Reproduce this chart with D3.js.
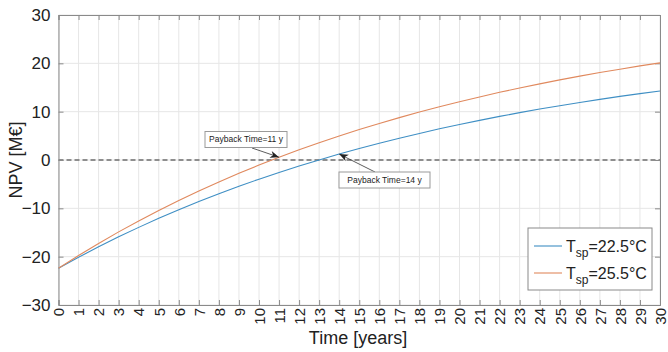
<!DOCTYPE html>
<html><head><meta charset="utf-8">
<script src="https://cdn.jsdelivr.net/npm/d3@7"></script>
<style>body{margin:0;background:#fff}svg{display:block;font-family:"Liberation Sans",Arial,sans-serif}</style>
</head><body><svg id="c" width="668" height="352"></svg>
<script>
const years = d3.range(0, 31);
const npv225 = [-22.40,-20.13,-17.96,-15.90,-13.94,-12.07,-10.28,-8.59,-6.97,-5.43,-3.97,-2.57,-1.24,0.02,1.23,2.38,3.47,4.51,5.50,6.45,7.35,8.20,9.02,9.80,10.54,11.24,11.91,12.55,13.16,13.74,14.29];
const npv255 = [-22.40,-19.77,-17.26,-14.87,-12.60,-10.43,-8.37,-6.40,-4.53,-2.75,-1.05,0.57,2.11,3.57,4.97,6.30,7.57,8.77,9.92,11.02,12.06,13.05,14.00,14.90,15.75,16.57,17.35,18.09,18.79,19.47,20.10];
const yTicks = [-30,-20,-10,0,10,20,30];
const seriesNames = ["22.5°C","25.5°C"];
const colors = ["#3f8fc4","#e0895e"];
const annotations = [{text:"Payback Time=11 y", year:11, series:1}, {text:"Payback Time=14 y", year:14, series:0}];

const svg = d3.select("#c");
const L=58.5, R=660, T=15, B=305;
const x = d3.scaleLinear().domain([0,30]).range([L,R]);
const y = d3.scaleLinear().domain([-30,30]).range([B,T]);

// grid
svg.append("g").selectAll("line").data(years).join("line")
  .attr("x1",d=>x(d)).attr("x2",d=>x(d)).attr("y1",T).attr("y2",B)
  .attr("stroke","#e6e6e6").attr("stroke-width",1);
svg.append("g").selectAll("line").data(yTicks).join("line")
  .attr("x1",L).attr("x2",R).attr("y1",d=>y(d)).attr("y2",d=>y(d))
  .attr("stroke","#e6e6e6").attr("stroke-width",1);

// zero dashed line
svg.append("line").attr("x1",L).attr("x2",R).attr("y1",y(0)).attr("y2",y(0))
  .attr("stroke","#6e6e6e").attr("stroke-width",1.3).attr("stroke-dasharray","5,3");

// axes
const axCol = "#8a8a8a";
const gB = svg.append("g").attr("transform",`translate(0,${B})`)
  .call(d3.axisBottom(x).tickValues(years).tickSize(-5).tickPadding(4).tickFormat(d3.format("d")));
gB.selectAll("text").attr("transform","rotate(-90)").attr("text-anchor","end")
  .attr("x",-3).attr("y",0).attr("dy","0.35em").attr("font-size",15).attr("fill","#222");
const gT = svg.append("g").attr("transform",`translate(0,${T})`)
  .call(d3.axisTop(x).tickValues(years).tickSize(-5).tickFormat(""));
const gL = svg.append("g").attr("transform",`translate(${L},0)`)
  .call(d3.axisLeft(y).tickValues(yTicks).tickSize(-5).tickPadding(8));
gL.selectAll("text").attr("font-size",17).attr("fill","#222");
const gR = svg.append("g").attr("transform",`translate(${R},0)`)
  .call(d3.axisRight(y).tickValues(yTicks).tickSize(-5).tickFormat(""));
[gB,gT,gL,gR].forEach(g=>{g.select(".domain").attr("stroke",axCol);g.selectAll(".tick line").attr("stroke",axCol);g.attr("font-family",null);});

// lines
const line = d3.line().x((d,i)=>x(years[i])).y(d=>y(d));
[npv225,npv255].forEach((s,k)=>{
  svg.append("path").datum(s).attr("d",line).attr("fill","none")
    .attr("stroke",colors[k]).attr("stroke-width",1.1);
});

// annotations
svg.append("defs").append("marker").attr("id","ah").attr("viewBox","0 0 10 10")
  .attr("refX",10).attr("refY",5).attr("markerWidth",9).attr("markerHeight",9)
  .attr("orient","auto").attr("markerUnits","userSpaceOnUse")
  .append("path").attr("d","M0,1 L10,5 L0,9 L3,5 Z").attr("fill","#222");
const boxes = [{bx:205,by:131.5,bw:82,bh:16,tx:252,ty:148},{bx:339,by:172,bw:91,bh:16,tx:375,ty:172}];
annotations.forEach((a,i)=>{
  const b = boxes[i];
  const s = a.series===0?npv225:npv255;
  const hx = x(a.year), hy = y(s[a.year]);
  svg.append("line").attr("x1",b.tx).attr("y1",b.ty).attr("x2",hx).attr("y2",hy)
    .attr("stroke","#333").attr("stroke-width",0.8).attr("marker-end","url(#ah)");
  svg.append("rect").attr("x",b.bx).attr("y",b.by).attr("width",b.bw).attr("height",b.bh)
    .attr("fill","#fff").attr("stroke","#9a9a9a").attr("stroke-width",1);
  svg.append("text").attr("x",b.bx+b.bw/2).attr("y",b.by+b.bh/2).attr("dy","0.35em")
    .attr("text-anchor","middle").attr("font-size",8.5).attr("fill","#222").text(a.text);
});

// legend
const lg = svg.append("g").attr("transform","translate(528,228)");
lg.append("rect").attr("width",124).attr("height",62).attr("fill","#fff").attr("stroke","#8a8a8a");
seriesNames.forEach((n,i)=>{
  const yy = 18 + i*27;
  lg.append("line").attr("x1",6).attr("x2",34).attr("y1",yy).attr("y2",yy).attr("stroke",colors[i]).attr("stroke-width",1.1);
  const t = lg.append("text").attr("x",38).attr("y",yy).attr("dy","0.35em").attr("font-size",16).attr("fill","#222");
  t.append("tspan").text("T");
  t.append("tspan").attr("font-size",12).attr("dy","5").text("sp");
  t.append("tspan").attr("dy","-5").text("="+n);
});

// axis titles
svg.append("text").attr("x",358).attr("y",344).attr("text-anchor","middle").attr("font-size",18).attr("fill","#222").text("Time [years]");
svg.append("text").attr("transform",`translate(22,${(T+B)/2}) rotate(-90)`).attr("text-anchor","middle").attr("font-size",18).attr("fill","#222").text("NPV [M€]");
</script></body></html>
